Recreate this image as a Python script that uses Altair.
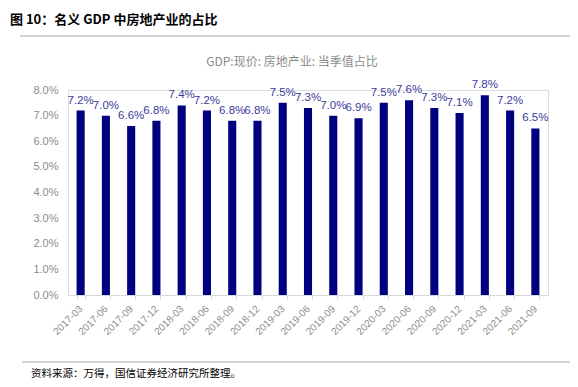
import altair as alt
import pandas as pd

quarters = ["2017-03","2017-06","2017-09","2017-12","2018-03","2018-06","2018-09","2018-12",
            "2019-03","2019-06","2019-09","2019-12","2020-03","2020-06","2020-09","2020-12",
            "2021-03","2021-06","2021-09"]
share_pct = [7.2,7.0,6.6,6.8,7.4,7.2,6.8,6.8,7.5,7.3,7.0,6.9,7.5,7.6,7.3,7.1,7.8,7.2,6.5]
y_ticks = [0.0,0.01,0.02,0.03,0.04,0.05,0.06,0.07,0.08]

heading = "图 10：名义 GDP 中房地产业的占比"
series_title = "GDP:现价: 房地产业: 当季值占比"
source_note = "资料来源：万得，国信证券经济研究所整理。"

df = pd.DataFrame({"q": quarters, "v": [s / 100 for s in share_pct]})

W, H = 480, 205
CJK = "Noto Sans CJK SC"

x = alt.X("q:N", sort=quarters, title=None,
          scale=alt.Scale(paddingInner=0.68, paddingOuter=0.34),
          axis=alt.Axis(labelAngle=-45, labelAlign="right", labelBaseline="middle",
                        labelFontSize=10, labelColor="#8c8c8c", labelFont="Liberation Sans",
                        domainColor="#d9d9d9", tickColor="#d9d9d9", tickSize=4,
                        tickBand="extent", labelPadding=8, labelOverlap=False))
y = alt.Y("v:Q", title=None,
          scale=alt.Scale(domain=[0, 0.08], nice=False),
          axis=alt.Axis(format=".1%", values=y_ticks, tickCount=9, grid=False, domain=False,
                        ticks=False, labelFontSize=11, labelColor="#8c8c8c",
                        labelFont="Liberation Sans", labelPadding=10, labelOverlap=False))

base = alt.Chart(df).encode(x=x, y=y)
bars = base.mark_bar(color="#000080")
labels = base.mark_text(dy=-10, fontSize=11.5, color="#3c3c9c", font="Liberation Sans").encode(
    text=alt.Text("v:Q", format=".1%"))

deco_df = pd.DataFrame({"k": [0]})
deco = alt.Chart(deco_df)
def rule(yv, x0, x1, color="#a6a6a6", w=1.2):
    return deco.mark_rule(color=color, strokeWidth=w).encode(
        x=alt.value(x0), x2=alt.value(x1), y=alt.value(yv))

top_line = rule(6 - 90, 20 - 68, 578 - 68)
mid_line = rule(36 - 90, 20 - 68, 578 - 68)
bot_line = rule(362 - 90, 22 - 68, 578 - 68)

head_txt = deco.mark_text(align="left", baseline="middle", fontSize=13, fontWeight="bold",
                          font=CJK, color="#000000").encode(
    x=alt.value(10 - 68), y=alt.value(20 - 90), text=alt.value(heading))
ser_txt = deco.mark_text(align="center", baseline="middle", fontSize=12,
                         font=CJK, color="#8c8c8c").encode(
    x=alt.value(292 - 68), y=alt.value(62 - 90), text=alt.value(series_title))
src_txt = deco.mark_text(align="left", baseline="middle", fontSize=10.5,
                         font=CJK, color="#000000").encode(
    x=alt.value(31 - 68), y=alt.value(374 - 90), text=alt.value(source_note))

chart = alt.layer(bars, labels, top_line, mid_line, bot_line, head_txt, ser_txt, src_txt).properties(
    width=W, height=H,
    autosize="none",
    padding={"left": 60, "top": 82, "right": 22, "bottom": 84},
).configure_view(stroke=None).configure(background="white")

chart.save("out.html", embed_options={"renderer": "svg", "actions": False})
